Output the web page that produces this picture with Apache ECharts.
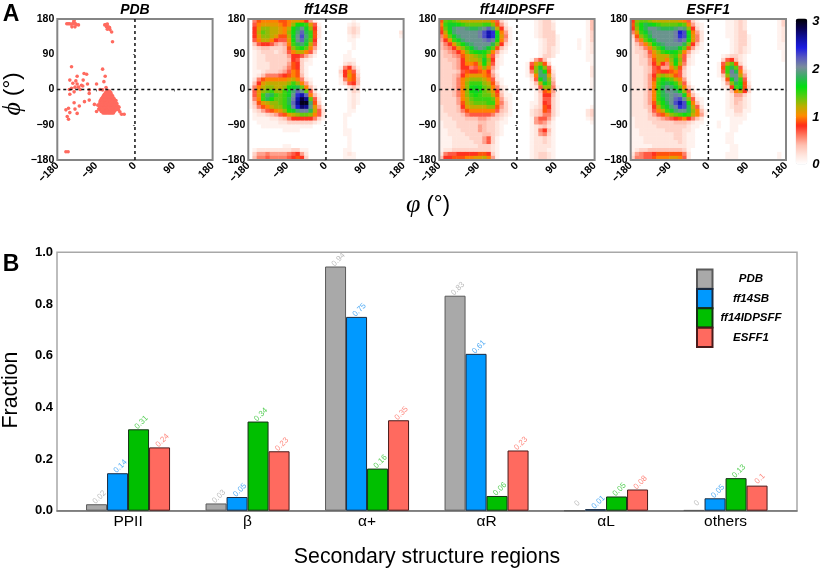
<!DOCTYPE html>
<html><head><meta charset="utf-8">
<style>html,body{margin:0;padding:0;background:#fff}#c{width:825px;height:572px}</style>
<script src="https://cdn.jsdelivr.net/npm/echarts@6/dist/echarts.min.js"></script>
</head><body><div id="c"></div>
<script>
// ---- Panel A: density values, read by eye. Each row = one 10-degree band of psi (top down),
// each character = one 10-degree band of phi; digit value = index in LEVELS / 10.
const LEVELS = "0123456789abcdefghijklmnopqrstu";
const ff14SB = [
"069aaaa99abba85100 0000001",
"07abbbba9adggfb710 00000121",
"08bddccbacgikhd820 00000232",
"08cedccbadgjmif920 000002320000000002",
"08bddcb99chknjf920 000001210000000001",
"07acca877bgkmie810 0000011",
"047887545afijhc710 0000001",
"0234433349dfgea510 0000001",
"0123332347acca7300 000001",
"012233333588753100 000011",
"012233333487321000 0000111",
"012223333598311000 0000232",
"012223334698310000 00016841",
"0112333457a9310000 00038a72",
"0124666789a9410000 00028b93",
"0269aaaaabca621000 00016a94",
"048bcccccdfda52000 00013784",
"16acddccdghiea4100 00000242",
"17bdefddfhjmke7200 00000132",
"17bfjifefhkoqma410 00000121",
"16afigeefilqtre720 00000121",
"149bcddefimruuj930 00000121",
"1369acddfhlpsrkb51 0000012",
"023579abdghjllic72 0000011",
"012234579bcdeeda72 000011",
"011112234688888631 00001",
"001111122333333210 00001",
"000111111111111000 00001",
"000000001111000000 000011",
"000000000000000000 000011",
"000000000000000000 000001",
"000000000000000000 000001",
"000000001100000000 000001",
"012222222233110000 000011",
"035565555678520000 0000121",
"046676666789830000 0000111"];
const ff14IDPSFF = [
"9efedccccccca73100 000012331000000014",
"afhhgfeeeeffd95200 000012332000000014",
"9ehjkkjiijkmjc8310 000012332000000014",
"8cgjkkkkklnqoga510 000012333000000013",
"6aehjkkkklnqohb610 000012333100000013",
"58bfhjkkkklmlga510 000001233100001013",
"468begijkkkkid8310 000001233100001012",
"4568bdfhjkjhe94200 000001232100001012",
"34568adfghgea52100 000001232100000012",
"344569bcdefb731000 000001332000000011",
"334458bccdhd821000 000157410000000011",
"333458aa9cgc721000 0017bd930000000001",
"333458867ada520000 0018dhd71000000002",
"3333479889a8410000 0016djg92000000002",
"333458abbba9520000 0013ajjb3000000002",
"33346acdddca721000 00027gjd4000000001",
"33346adfffdc941000 00014che5000000001",
"33346adghgeda62100 000127dd6100000001",
"33346adghgedb83100 0000149a51",
"33346adfgfeec94110 0000138841",
"33335aceffffea5210 0000137731",
"333359cdeeeffa6310 0001138731",
"233348bccccdd95310 000123983100000001",
"2333469aaaaaa74310 000234973100000023",
"223334677777643210 000234663100000023",
"222333444554332100 000157752000000012",
"122233333443321100 000156531000000001",
"122233333543321000 000123421",
"112223333543321000 000126841",
"112222333344321000 000125631",
"111222233357310000 000122321",
"111222223357310000 000122321",
"111222222333210000 000122221",
"122333333333210000 000122211",
"267788888998310000 000123321",
"488999aabbca510000 000123321"];
const ESFF1 = [
"8deedccccccba73100 000011232000000013",
"9egihgfeeeefea5210 000011232000000013",
"8dgikkjiiijkjd8310 000011232000000012",
"6bfhjkkkkklpnga520 000011233000000012",
"39dfikkkkklonhb620 000011233100000012",
"26aegikkkklmlgb620 000001233100000012",
"246adgijkkkkid8410 000001233100000011",
"2346adfhjjjhe95210 000001232100000011",
"23347bdfghgea52100 000001232100000001",
"22346acccefc731000 000123321000000001",
"223359ccadhd721000 000378421000000001",
"223358b86cgc621000 0017ce931",
"222347855ad9410000 0019fie72",
"2223479889a7310000 0017flia31",
"222358cdcb97310000 0014dkkc51",
"222359egfeca510000 00029hkf71",
"22235afhihfc720000 00015dig92",
"22235afikjhea41000 000128fh93",
"22235afikkjhd72000 000014ac83",
"22235afijklkha4100 0000125531",
"22235afhjkmnkd7210 0000124421",
"222359egiknqnga410 0000124321",
"222348cfhjlonic720 0000123321",
"222247acfhjkkida41 0000113311",
"22223579bdefgfca51 000011221",
"122233456789a86420 000001111",
"122223333344432110 00100111",
"122222333333321100 0010011",
"112222223333221000 0000011",
"112222222233211000 000011",
"111222222233211000 000011",
"111222222223211000 000011",
"111112222222211000 0000011",
"123344444444310000 0000011",
"256778999999620000 000011100000000010",
"366779aaabba720000 000011100000000010"];

// PDB scatter: scattered residues as [phi, psi]
const pdbScattered = [
[-158,168],[-155,168],[-152,168],[-148,167],[-146,160],[-143,168],[-142,172],[-141,176],[-139,169],[-136,166],[-131,165],[-139,160],
[-70,165],[-67,166],[-64,167],[-66,160],[-62,160],[-60,158],[-64,154],[-58,153],[-59,158],[-54,147],[-52,122],
[-147,58],[-134,34],[-151,24],[-118,41],[-112,39],[-137,22],[-120,24],[-144,16],[-134,14],[-124,11],[-110,14],[-89,14],[-152,0],[-147,3],[-139,6],[-131,6],[-141,-6],[-151,-12],[-127,0],[-121,9],[-106,-1],[-106,-10],[-81,0],[-75,-1],[-106,-27],[-117,-31],[-129,-42],[-94,-38],[-89,-56],[-139,-50],[-134,-61],[-154,-48],[-160,-52],[-151,-59],[-157,-69],[-154,-76],[-160,-159],[-155,-159],[-141,-34],
[-75,52],[-69,34],[-72,20],[-67,5],[-41,-48],[-38,-52],[-35,-57],[-31,-63],[-25,-63],[-37,-45],[-44,-28],[-86,-40],[-84,-50]];
// PDB dense alpha cluster: [psi, phi, phi, ...]
const pdbClusterRows = [
[-4,-65,-62,-59],
[-8,-68,-65,-62,-59,-56],
[-12,-71,-68,-65,-62,-58,-55],
[-16,-73,-70,-67,-64,-61,-58,-55,-52],
[-20,-75,-72,-69,-66,-63,-60,-57,-54,-51],
[-24,-78,-75,-72,-69,-66,-63,-60,-57,-54,-51,-48],
[-28,-80,-77,-74,-71,-68,-65,-62,-59,-56,-53,-50,-47],
[-32,-81,-78,-75,-72,-69,-66,-63,-60,-57,-54,-51,-48,-45],
[-36,-81,-78,-75,-72,-69,-66,-63,-60,-57,-54,-51,-48,-45,-42],
[-40,-81,-78,-75,-72,-69,-66,-63,-60,-57,-54,-51,-48,-45,-42],
[-44,-82,-79,-76,-69,-66,-63,-60,-57,-54,-51,-48,-45,-42,-39],
[-48,-81,-78,-75,-72,-69,-66,-63,-60,-57,-54,-51,-48,-45,-42],
[-52,-80,-77,-74,-71,-68,-65,-62,-59,-56,-53,-50,-47,-44],
[-56,-78,-75,-72,-69,-66,-63,-60,-57,-54,-51,-48],
[-60,-74,-71,-68,-65,-62,-59,-56,-53,-50]];

const densityRamp = ['#ffffff','#ffe4dc','#ffbfb0','#ff7a62','#ff2b18','#ff8c00','#b8b000','#55cc10','#00e010','#35b060','#7a8c9c','#5858c0','#1c1ce0','#1010a0','#080050','#000000'];
const panelNames = ['PDB','ff14SB','ff14IDPSFF','ESFF1'];

// ---- Panel B
const regions = ['PPII','β','α+','αR','αL','others'];
const barPDB   = [0.025,0.028,0.945,0.832,0,0.002];
const barSB    = [0.145,0.053,0.75,0.607,0.006,0.048];
const barIDP   = [0.315,0.345,0.163,0.057,0.055,0.126];
const barESFF  = [0.245,0.23,0.35,0.233,0.082,0.097];
const lblPDB   = ['0.02','0.03','0.94','0.83','0','0'];
const lblSB    = ['0.14','0.05','0.75','0.61','0.01','0.05'];
const lblIDP   = ['0.31','0.34','0.16','0.06','0.05','0.13'];
const lblESFF  = ['0.24','0.23','0.35','0.23','0.08','0.1'];

const crossV = [[0,-180],[0,180]], crossH = [[-180,0],[180,0]];

function decode(rows){
  const out = [];
  rows.forEach((r,j)=>{
    const s = r.replace(' ','');
    for(let i=0;i<36;i++){
      const v = i<s.length ? LEVELS.indexOf(s[i]) : 0;
      out.push([i,j,v/10]);
    }
  });
  return out;
}

const lefts = [57.3,248.3,439.3,630.7];
const PW = 155.3, PH = 141, PT = 19;
const FONT = '"Liberation Sans",Arial,sans-serif';
const SERIF = '"Liberation Serif","DejaVu Serif",serif';
const bins = Array.from({length:36},(_,i)=>String(i));
const grid=[], xAxis=[], yAxis=[], series=[], graphic=[];
const minusFmt = v => String(v).replace('-','−');

lefts.forEach((l,i)=>{
  grid.push({left:l,top:PT,width:PW,height:PH,show:true,z:5,borderColor:'#858585',borderWidth:2,backgroundColor:'transparent'});
  const tickCommon = {show:true,length:2,lineStyle:{color:'#777',width:1}};
  xAxis.push({gridIndex:i,type:'value',min:-180,max:180,interval:90,position:'bottom',z:6,
    axisLine:{show:false},axisTick:tickCommon,splitLine:{show:false},
    axisLabel:{rotate:45,margin:4,color:'#000',fontFamily:FONT,fontWeight:'bold',fontSize:10.5,formatter:minusFmt,showMinLabel:true,showMaxLabel:true,hideOverlap:false}});
  xAxis.push({gridIndex:i,type:'category',data:bins,position:'top',show:false});
  yAxis.push({gridIndex:i,type:'value',min:-180,max:180,interval:90,position:'left',z:6,
    axisLine:{show:false},axisTick:tickCommon,splitLine:{show:false},
    axisLabel:{margin:3,color:'#000',fontFamily:FONT,fontWeight:'bold',fontSize:10.5,formatter:minusFmt,showMinLabel:true,showMaxLabel:true,hideOverlap:false}});
  yAxis.push({gridIndex:i,type:'category',data:bins,position:'right',inverse:true,show:false});
  graphic.push({type:'text',silent:true,style:{text:panelNames[i],x:l+PW/2,y:10,align:'center',verticalAlign:'middle',font:'italic bold 14px '+FONT,fill:'#000'}});
});
// colour bar axis (grid 4)
grid.push({left:795.7,top:18.5,width:11.6,height:146});
xAxis.push({gridIndex:4,type:'value',show:false,min:0,max:1});
yAxis.push({gridIndex:4,type:'value',min:0,max:3.07,position:'right',z:20,
  axisLine:{show:false},splitLine:{show:false},
  axisTick:{show:true,inside:true,length:3,lineStyle:{color:'#fff'},customValues:[0,1,2,3]},
  axisLabel:{margin:5,color:'#000',fontFamily:FONT,fontWeight:'bold',fontStyle:'italic',fontSize:13,customValues:[0,1,2,3],hideOverlap:false}});
// bar frame (grid 5)
grid.push({left:57,top:252.3,width:740,height:258.4,show:true,borderColor:'#a8a8a8',borderWidth:1.5,backgroundColor:'transparent'});
xAxis.push({gridIndex:5,type:'value',min:0,max:1,axisLabel:{show:false},axisTick:{show:false},splitLine:{show:false},axisLine:{show:true,lineStyle:{color:'#707070',width:1.5}}});
yAxis.push({gridIndex:5,type:'value',min:0,max:1,interval:0.2,axisLine:{show:false},axisTick:{show:false},splitLine:{show:false},
  axisLabel:{margin:4,color:'#000',fontFamily:FONT,fontWeight:'bold',fontSize:13,formatter:v=>v.toFixed(1),hideOverlap:false}});
// bars (grid 6)
grid.push({left:68.3,top:252.3,width:717,height:258.4});
xAxis.push({gridIndex:6,type:'category',data:regions,axisLine:{show:false},axisTick:{show:false},
  axisLabel:{margin:3,color:'#000',fontFamily:FONT,fontSize:15.5,interval:0}});
yAxis.push({gridIndex:6,type:'value',min:0,max:1,show:false,splitLine:{show:false}});

// heatmaps + guides + scatter
[null,ff14SB,ff14IDPSFF,ESFF1].forEach((rows,i)=>{
  if(rows) series.push({name:panelNames[i]+' density',type:'heatmap',xAxisIndex:2*i+1,yAxisIndex:2*i+1,data:decode(rows),progressive:0,silent:true,z:2,emphasis:{disabled:true}});
});
const heatCount = series.length;
const pdbPoints = pdbScattered.slice();
pdbClusterRows.forEach(r=>r.slice(1).forEach(p=>pdbPoints.push([p,r[0]])));
series.push({name:'PDB residues',type:'scatter',xAxisIndex:0,yAxisIndex:0,data:pdbPoints,symbolSize:3.6,silent:true,z:3,itemStyle:{color:'#ff6a5f',opacity:1}});
lefts.forEach((l,i)=>{
  [crossV,crossH].forEach(d=>series.push({type:'line',xAxisIndex:2*i,yAxisIndex:2*i,data:d,symbol:'none',silent:true,z:7,
    lineStyle:{color:'#111',width:1.5,type:[3,3]}}));
});
function barSeries(name,data,labels,fill,edge,lab){
  series.push({name,type:'bar',xAxisIndex:10,yAxisIndex:10,data,barWidth:21,barGap:0,z:4,
    itemStyle:{color:fill,borderColor:edge,borderWidth:1},
    label:{show:true,position:'top',rotate:45,distance:1,offset:[6.2,1.8],fontFamily:FONT,fontSize:8,color:lab,
      formatter:p=>labels[p.dataIndex]}});
}
barSeries('PDB',barPDB,lblPDB,'#a9a9a9','#5a5a5a','#bdbdbd');
barSeries('ff14SB',barSB,lblSB,'#0099ff','#1a2a40','#55adf5');
barSeries('ff14IDPSFF',barIDP,lblIDP,'#00bf00','#143014','#58cf58');
barSeries('ESFF1',barESFF,lblESFF,'#ff6a5f','#4a1a1a','#ff8a80');

// free text
function txt(o){graphic.push({type:'text',silent:true,rotation:o.rot||0,x:o.x,y:o.y,style:{text:o.t,align:'center',verticalAlign:'middle',font:o.f,fill:'#000',rich:o.rich}});}
txt({t:'A',x:11,y:15,f:'bold 23px '+FONT});
txt({t:'B',x:11,y:265,f:'bold 23px '+FONT});
txt({t:'{i|φ} (°)',x:428,y:205,f:'22px '+FONT,rich:{i:{font:'italic 26px '+SERIF,fill:'#000'}}});
txt({t:'{i|ϕ} (°)',x:13,y:94,rot:Math.PI/2,f:'22px '+FONT,rich:{i:{font:'italic 26px '+SERIF,fill:'#000'}}});
txt({t:'Fraction',x:11,y:390,rot:Math.PI/2,f:'21.3px '+FONT});
txt({t:'Secondary structure regions',x:427,y:557,f:'21.3px '+FONT});

const option = {
  animation:false,backgroundColor:'#fff',
  grid,xAxis,yAxis,series,graphic,
  visualMap:{type:'continuous',min:0,max:3.07,seriesIndex:Array.from({length:heatCount},(_,i)=>i),
    show:true,calculable:false,realtime:false,left:795.7,top:18.5,itemWidth:11.6,itemHeight:146,text:['',''],showLabel:false,padding:0,hoverLink:false,
    inRange:{color:densityRamp},z:10},
  legend:{data:['PDB','ff14SB','ff14IDPSFF','ESFF1'],orient:'vertical',left:696,top:268.5,padding:0,icon:'rect',itemWidth:15.5,itemHeight:19.3,itemGap:-1.9,selectedMode:false,
    formatter:n=>'{c|'+n+'}',
    textStyle:{fontFamily:FONT,color:'#000',lineHeight:12,height:12,rich:{c:{fontFamily:FONT,fontWeight:'bold',fontStyle:'italic',fontSize:11.5,lineHeight:12,height:12,color:'#000',width:67,align:'center'}}}}
};
const chart = echarts.init(document.getElementById('c'),null,{renderer:'canvas'});
chart.setOption(option);
</script></body></html>
